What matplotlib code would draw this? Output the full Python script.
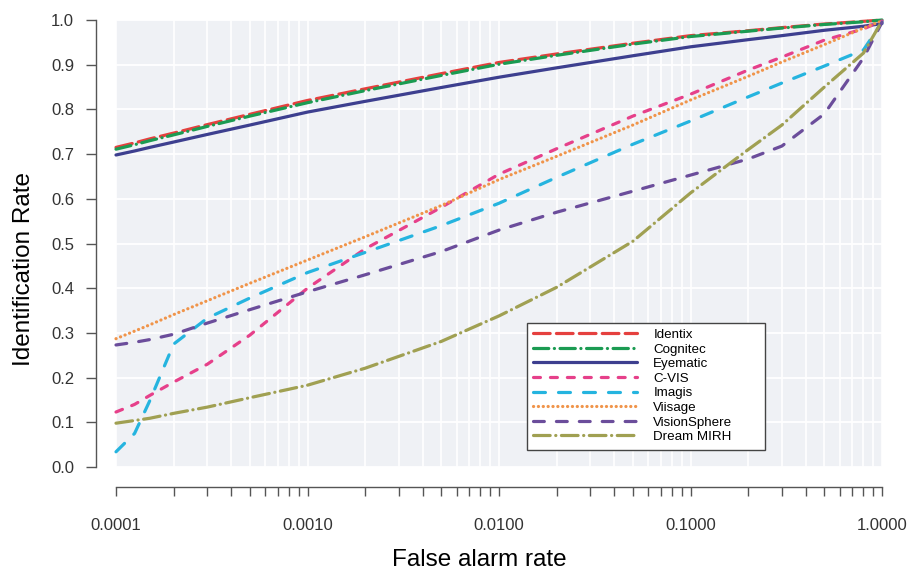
import matplotlib
matplotlib.use("Agg")
import matplotlib.pyplot as plt
from matplotlib.patches import Rectangle
from matplotlib.ticker import LogLocator, FixedLocator, FormatStrFormatter, NullFormatter

plt.rcParams['font.family'] = ['Liberation Sans', 'DejaVu Sans']
plt.rcParams['lines.scale_dashes'] = False

# false alarm rates where each curve was sampled
far = [1e-4, 1.25e-4, 1.5e-4, 2e-4, 3e-4, 5e-4, 1e-3, 2e-3, 5e-3,
       1e-2, 2e-2, 5e-2, 1e-1, 2e-1, 3e-1, 5e-1, 8e-1, 1.0]

identix      = [.715, .725, .734, .747, .766, .789, .820, .846, .880,
                .905, .924, .948, .965, .976, .983, .991, .997, 1.0]
cognitec     = [.711, .721, .730, .743, .762, .785, .815, .842, .876,
                .901, .921, .946, .963, .975, .982, .990, .996, 1.0]
eyematic     = [.698, .707, .715, .727, .744, .765, .794, .818, .849,
                .872, .893, .920, .940, .956, .965, .977, .986, .992]
cvis         = [.123, .140, .160, .190, .230, .295, .400, .488, .581,
                .655, .712, .785, .834, .888, .917, .955, .980, .998]
imagis       = [.034, .075, .148, .275, .333, .378, .435, .480, .540,
                .590, .648, .722, .774, .828, .859, .897, .933, .995]
viisage      = [.287, .304, .318, .341, .372, .411, .463, .515, .585,
                .643, .695, .765, .821, .874, .906, .945, .982, .998]
visionsphere = [.273, .279, .285, .297, .322, .352, .392, .430, .482,
                .530, .570, .617, .653, .689, .718, .790, .915, .995]
dream_mirh   = [.098, .104, .109, .120, .134, .155, .183, .221, .281,
                .338, .402, .505, .613, .710, .765, .850, .926, .998]

names = ['Identix', 'Cognitec', 'Eyematic', 'C-VIS', 'Imagis',
         'Viisage', 'VisionSphere', 'Dream MIRH']
series = [identix, cognitec, eyematic, cvis, imagis, viisage,
          visionsphere, dream_mirh]
colors = ['#e5403e', '#1b9b52', '#3d3f8f', '#e6408a', '#25b4df',
          '#f0944a', '#6b4d9b', '#a0a052']
dashes = [(12, 4.5), (11, 4, 0.1, 4), None, (5, 7.2), (8.6, 9.4),
          (0.1, 3.4), (7.8, 8.7), (12, 4, 0.1, 4)]

px = 72.0 / 100  # points per pixel at dpi=100

fig = plt.figure(figsize=(9.14, 5.76), dpi=100)
ax = fig.add_axes([116 / 914, 109 / 576, 766 / 914, 447 / 576])
ax.set_facecolor('#eff1f5')

for vals, name, c, d in zip(series, names, colors, dashes):
    line, = ax.plot(far, vals, color=c, lw=2.3, label=name, clip_on=False,
                    solid_capstyle='round', dash_capstyle='round')
    if d is not None:
        line.set_dashes(d)

ax.set_xscale('log')
ax.set_xlim(1e-4, 1.0)
ax.set_ylim(0, 1.0)

ax.xaxis.set_major_locator(LogLocator(base=10, numticks=10))
ax.xaxis.set_minor_locator(LogLocator(base=10, subs=range(2, 10), numticks=20))
ax.xaxis.set_major_formatter(FormatStrFormatter('%.4f'))
ax.xaxis.set_minor_formatter(NullFormatter())
ax.yaxis.set_major_locator(FixedLocator([i / 10 for i in range(11)]))
ax.yaxis.set_major_formatter(FormatStrFormatter('%.1f'))

ax.set_axisbelow(True)
ax.grid(which='both', axis='x', color='white', lw=1.2)
ax.grid(which='major', axis='y', color='white', lw=1.3)

for s in ['top', 'right']:
    ax.spines[s].set_visible(False)
ax.spines['left'].set_position(('outward', 20 * px))
ax.spines['bottom'].set_position(('outward', 20 * px))
ax.spines['left'].set_bounds(0, 1)
ax.spines['bottom'].set_bounds(1e-4, 1)
for s in ['left', 'bottom']:
    ax.spines[s].set_color('#555555')
    ax.spines[s].set_linewidth(1.0)

ax.tick_params(axis='x', which='both', length=9 * px, width=1.0,
               color='#555555', pad=22 * px, labelsize=12, labelcolor='#333333')
ax.tick_params(axis='y', which='major', length=10 * px, width=1.0,
               color='#555555', pad=12 * px, labelsize=12, labelcolor='#333333')

fig.text(479 / 914, 1 - 560 / 576, 'False alarm rate', fontsize=17.5,
         ha='center', va='center')
fig.text(24 / 914, 1 - 269 / 576, 'Identification Rate', fontsize=17.5,
         ha='center', va='center', rotation=90)

# legend box is drawn separately so it can be wider than the entries
frame = Rectangle((527 / 914, 1 - 450 / 576), 238 / 914, 127 / 576,
                  transform=fig.transFigure, facecolor='white',
                  edgecolor='#444444', lw=1.0, zorder=4.9, clip_on=False)
ax.add_patch(frame)

leg = ax.legend(loc='upper left', bbox_to_anchor=(527 / 914, 1 - 323 / 576),
                bbox_transform=fig.transFigure, borderaxespad=0,
                fontsize=9.6, handlelength=7.8, handletextpad=1.25,
                labelspacing=0.17, borderpad=0.42, frameon=False)
leg.set_zorder(5)

fig.savefig('out.png', dpi=100)
